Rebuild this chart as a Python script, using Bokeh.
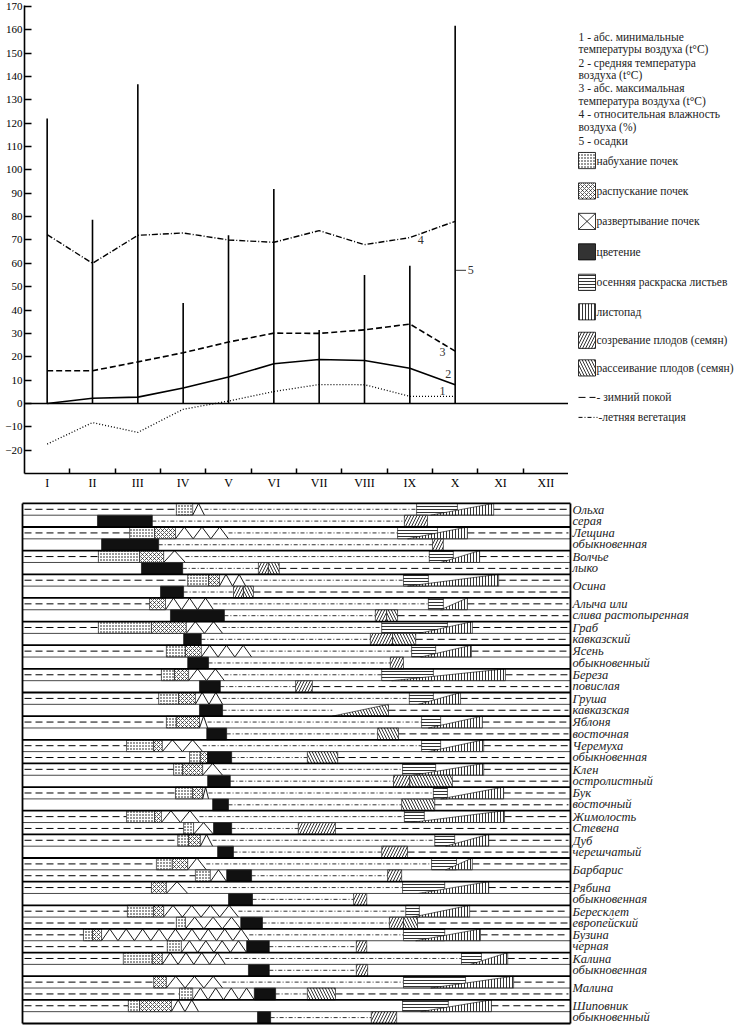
from bokeh.plotting import figure
from bokeh.layouts import column, row
from bokeh.models import FixedTicker, Range1d, Span
from bokeh.core.properties import value
from bokeh.embed import file_html
from bokeh.resources import INLINE

SERIF = "Liberation Serif"

# ---------------- climate data ----------------
months = ["I", "II", "III", "IV", "V", "VI", "VII", "VIII", "IX", "X", "XI", "XII"]
data_months = [1, 2, 3, 4, 5, 6, 7, 8, 9, 10]
t_min = [-17.4, -8.2, -12.4, -2.5, 1.0, 5.1, 8.1, 8.0, 3.0, 3.0]
t_mean = [0.0, 2.2, 2.7, 6.6, 11.3, 17.0, 18.8, 18.4, 15.1, 8.0]
t_max = [14.0, 14.0, 17.8, 21.7, 26.3, 30.1, 30.0, 31.5, 34.0, 22.4]
humidity = [72.3, 60.0, 72.0, 73.0, 70.0, 69.0, 74.0, 68.0, 71.0, 78.0]
precip = [122.0, 78.7, 136.7, 43.0, 72.0, 91.8, 31.5, 55.0, 59.0, 161.7]

series_labels = ["1", "2", "3", "4"]
series_label_x = [9.72, 9.85, 9.72, 9.24]
series_label_y = [5.5, 12.8, 22.1, 69.8]

legend_lines = [
    "1 - абс. минимальные", "температуры воздуха (t°C)",
    "2 - средняя температура", "воздуха (t°C)",
    "3 - абс. максимальная", "температура воздуха  (t°C)",
    "4 - относительная влажность", "воздуха (%)",
    "5 - осадки",
]
phase_names = ["набухание почек", "распускание почек", "развертывание почек",
               "цветение", "осенняя раскраска листьев", "листопад",
               "созревание плодов (семян)", "рассеивание плодов (семян)"]

# ---------------- phenology data (row, start, end) in months ----------------
species = ["Ольха\nсерая", "Лещина\nобыкновенная", "Волчье\nлыко", "Осина",
           "Алыча или\nслива растопыренная", "Граб\nкавказский", "Ясень\nобыкновенный",
           "Береза\nповислая", "Груша\nкавказская", "Яблоня\nвосточная",
           "Черемуха\nобыкновенная", "Клен\nостролистный", "Бук\nвосточный",
           "Жимолость\nСтевена", "Дуб\nчерешчатый", "Барбарис", "Рябина\nобыкновенная",
           "Бересклет\nевропейский", "Бузина\nчерная", "Калина\nобыкновенная",
           "Малина", "Шиповник\nобыкновенный"]

swelling = [(1, 3.85, 4.21), (3, 2.82, 3.37), (5, 2.13, 3.04), (7, 4.10, 4.56), (11, 2.13, 3.30),
            (13, 3.63, 4.05), (15, 3.52, 3.81), (17, 3.46, 3.90), (19, 3.63, 3.85), (21, 2.75, 3.35),
            (22, 4.14, 4.38), (23, 3.79, 3.99), (25, 3.83, 4.21), (27, 2.75, 3.37), (28, 4.01, 4.23),
            (29, 3.88, 4.12), (31, 3.41, 3.76), (32, 4.27, 4.60), (35, 2.77, 3.35), (36, 3.85, 4.05),
            (37, 1.80, 2.00), (38, 3.65, 3.96), (39, 2.68, 3.32), (42, 3.92, 4.21), (43, 2.79, 3.04)]
bursting = [(3, 3.37, 3.83), (5, 3.04, 3.57), (7, 4.56, 4.80), (9, 3.26, 3.61), (11, 3.30, 4.07),
            (13, 4.05, 4.40), (15, 3.81, 4.12), (17, 3.90, 4.27), (19, 3.85, 4.36), (21, 3.35, 3.54),
            (22, 4.38, 4.54), (23, 3.99, 4.43), (25, 4.21, 4.43), (27, 3.37, 3.52), (29, 4.12, 4.38),
            (31, 3.76, 4.10), (33, 3.30, 3.63), (35, 3.35, 3.57), (37, 2.00, 2.20), (39, 3.32, 3.54),
            (41, 3.35, 3.63), (43, 3.04, 3.74)]
unfolding = [(1, 4.21, 4.47), (3, 3.83, 5.00), (5, 3.57, 4.05), (7, 4.80, 5.38), (9, 3.61, 4.67),
             (11, 4.07, 4.87), (13, 4.40, 5.51), (15, 4.12, 4.91), (17, 4.27, 4.87), (19, 4.36, 4.54),
             (21, 3.54, 4.43), (23, 4.43, 4.87), (25, 4.43, 4.56), (27, 3.52, 4.36), (28, 4.23, 4.67),
             (29, 4.38, 4.65), (31, 4.10, 4.51), (32, 4.60, 4.96), (33, 3.63, 4.10), (35, 3.57, 5.22),
             (36, 4.05, 5.27), (37, 2.20, 5.46), (38, 3.96, 5.40), (39, 3.54, 4.93), (41, 3.63, 4.87),
             (42, 4.21, 5.57), (43, 3.74, 4.34)]
flowering = [(2, 2.11, 3.32), (4, 2.20, 3.46), (6, 3.08, 3.99), (8, 3.50, 4.01), (10, 3.72, 4.91),
             (12, 4.01, 4.40), (14, 4.10, 4.56), (16, 4.36, 4.82), (18, 4.36, 4.87), (20, 4.52, 4.96),
             (22, 4.54, 5.07), (24, 4.54, 5.04), (26, 4.65, 5.00), (28, 4.67, 5.07), (30, 4.76, 5.11),
             (32, 4.96, 5.51), (34, 5.00, 5.53), (36, 5.27, 5.75), (38, 5.40, 5.90), (40, 5.44, 5.90),
             (42, 5.57, 6.04), (44, 5.64, 5.93)]
coloring = [(1, 9.15, 10.05), (3, 8.73, 9.61), (5, 9.43, 9.96), (7, 8.86, 9.41), (9, 9.41, 9.74),
            (11, 8.38, 9.83), (13, 9.04, 9.57), (15, 8.38, 9.52), (17, 8.99, 9.52), (19, 9.26, 9.68),
            (21, 9.26, 9.68), (23, 8.84, 9.57), (25, 9.52, 9.83), (27, 8.88, 9.32), (29, 9.55, 9.99),
            (31, 9.48, 10.03), (33, 8.84, 9.77), (35, 8.91, 9.21), (37, 8.86, 9.77), (39, 10.14, 10.58),
            (41, 8.86, 10.23), (43, 8.84, 9.85)]
leaf_fall = [(1, 9.46, 10.85), (3, 8.95, 10.27), (5, 9.68, 10.54), (7, 8.95, 10.96), (9, 9.68, 10.27),
             (11, 9.20, 10.38), (13, 9.24, 10.36), (15, 8.60, 11.11), (17, 9.19, 10.12), (19, 9.41, 10.60),
             (21, 9.41, 10.63), (23, 9.06, 10.63), (25, 9.68, 11.07), (27, 9.02, 11.09), (29, 9.79, 10.74),
             (31, 9.79, 10.38), (33, 9.19, 10.74), (35, 9.06, 10.32), (37, 9.13, 10.56), (39, 10.34, 11.16),
             (41, 9.46, 11.29), (43, 9.24, 10.80)]
ripening = [(2, 8.88, 9.39), (4, 9.50, 9.74), (6, 5.66, 5.88), (8, 5.11, 5.33), (10, 8.24, 8.49),
            (12, 8.13, 8.62), (14, 8.57, 8.86), (16, 6.48, 6.85), (24, 8.64, 9.00), (28, 6.54, 7.36),
            (30, 8.38, 8.95), (32, 8.51, 8.82), (34, 7.76, 8.05), (36, 8.55, 8.86), (38, 7.82, 8.05),
            (40, 7.82, 8.07), (44, 8.15, 8.71)]
dispersal = [(6, 5.88, 6.12), (8, 5.33, 5.55), (10, 8.49, 8.73), (12, 8.62, 9.13), (20, 8.29, 8.75),
             (22, 6.74, 7.41), (24, 9.00, 9.94), (26, 8.82, 9.55), (36, 8.86, 9.17), (42, 6.74, 7.36)]
dispersal_rising = [(18, 7.29, 8.53)]
winter_rest = [(1, 0.5, 3.85), (1, 10.85, 12.5), (3, 0.5, 2.82), (3, 10.27, 12.5), (5, 0.5, 2.13),
               (5, 10.54, 12.5), (6, 6.12, 12.5), (7, 0.5, 4.10), (7, 10.96, 12.5), (8, 5.55, 12.5),
               (9, 0.5, 3.26), (9, 10.27, 12.5), (10, 8.73, 12.5), (11, 0.5, 2.13), (11, 10.38, 12.5),
               (12, 9.13, 12.5), (13, 0.5, 3.63), (13, 10.36, 12.5), (15, 0.5, 3.52), (15, 11.11, 12.5),
               (16, 6.85, 12.5), (17, 0.5, 3.46), (17, 10.12, 12.5), (18, 8.53, 12.5), (19, 0.5, 3.63),
               (19, 10.60, 12.5), (20, 8.75, 12.5), (21, 0.5, 2.75), (21, 10.63, 12.5), (22, 0.5, 4.14),
               (22, 7.41, 12.5), (23, 0.5, 3.79), (23, 10.63, 12.5), (24, 9.94, 12.5), (25, 0.5, 3.83),
               (25, 11.07, 12.5), (26, 9.55, 12.5), (27, 0.5, 2.75), (27, 11.09, 12.5), (28, 0.5, 4.01),
               (28, 7.36, 12.5), (29, 0.5, 3.88), (29, 10.74, 12.5), (30, 8.95, 12.5), (31, 0.5, 3.41),
               (31, 10.38, 12.5), (32, 0.5, 4.27), (33, 0.5, 3.30), (33, 10.74, 12.5), (35, 0.5, 2.77),
               (35, 10.32, 12.5), (36, 0.5, 3.85), (36, 9.17, 12.5), (37, 0.5, 1.80), (37, 10.56, 12.5),
               (38, 0.5, 3.65), (39, 0.5, 2.68), (39, 11.16, 12.5), (41, 0.5, 3.35), (41, 11.29, 12.5),
               (42, 0.5, 3.92), (42, 7.36, 12.5), (43, 0.5, 2.79), (43, 10.80, 12.5)]
summer_veg = [(1, 4.47, 9.15), (2, 3.32, 8.88), (3, 5.00, 8.73), (4, 3.46, 9.50), (5, 4.05, 9.43),
              (6, 3.99, 5.66), (7, 5.38, 8.86), (8, 4.01, 5.11), (9, 4.67, 9.41), (10, 4.91, 8.24),
              (11, 4.87, 8.38), (12, 4.40, 8.13), (13, 5.51, 9.04), (14, 4.56, 8.57), (15, 4.91, 8.38),
              (16, 4.82, 6.48), (17, 4.87, 8.99), (18, 4.87, 7.29), (19, 4.54, 9.26), (20, 4.96, 8.29),
              (21, 4.43, 9.26), (22, 5.07, 6.74), (23, 4.87, 8.84), (24, 5.04, 8.64), (25, 4.56, 9.52),
              (26, 5.00, 8.82), (27, 4.36, 8.88), (28, 5.07, 6.54), (29, 4.65, 9.55), (30, 5.11, 8.38),
              (31, 4.51, 9.48), (32, 5.51, 8.51), (33, 4.10, 8.84), (34, 5.53, 7.76), (35, 5.22, 8.91),
              (36, 5.75, 8.55), (37, 5.46, 8.86), (38, 5.90, 7.82), (39, 4.93, 10.14), (40, 5.90, 7.82),
              (41, 4.87, 8.86), (42, 6.04, 6.74), (44, 5.93, 8.15)]

# ---------------- styles ----------------
WINTER_DASH = "7 4"
SUMMER_DASH = "4 2 1 2"
HATCH = dict(
    swell=dict(hatch_pattern="dot", hatch_scale=3, hatch_weight=1.0),
    burst=dict(hatch_pattern="diagonal_cross", hatch_scale=4, hatch_weight=0.6),
    color=dict(hatch_pattern="horizontal_line", hatch_scale=3, hatch_weight=0.8),
    fall=dict(hatch_pattern="vertical_line", hatch_scale=3, hatch_weight=0.8),
    ripen=dict(hatch_pattern="right_diagonal_line", hatch_scale=6, hatch_weight=0.8),
    disp=dict(hatch_pattern="left_diagonal_line", hatch_scale=6, hatch_weight=0.8),
)
MONTH_PX = 45.33
FRAME_LEFT = 24

# ---------------- top chart ----------------
top = figure(width=FRAME_LEFT + 544, height=492, x_range=Range1d(0.5, 12.5), y_range=Range1d(-30, 170.4),
             output_backend="svg", toolbar_location=None,
             min_border_left=FRAME_LEFT, min_border_right=0, min_border_top=5, min_border_bottom=17)
top.grid.visible = False
top.outline_line_color = None
top.background_fill_color = "white"
top.border_fill_color = "white"

xa = top.xaxis[0]
xa.ticker = FixedTicker(ticks=list(range(1, 13)), minor_ticks=[m + 0.5 for m in range(1, 12)])
xa.major_label_overrides = {i + 1: months[i] for i in range(12)}
xa.major_tick_in = 0
xa.major_tick_out = 0
xa.minor_tick_in = 5
xa.minor_tick_out = 0
xa.minor_tick_line_width = 1.5
xa.axis_line_width = 1.6
xa.major_label_text_font = SERIF
xa.major_label_text_font_size = "12px"
xa.major_label_text_color = "black"
xa.major_label_standoff = 2

ya = top.yaxis[0]
ya.ticker = FixedTicker(ticks=list(range(-20, 171, 10)))
ya.major_tick_in = 7
ya.major_tick_out = 0
ya.minor_tick_in = 0
ya.minor_tick_out = 0
ya.major_tick_line_width = 1.5
ya.axis_line_width = 1.6
ya.major_label_text_font = SERIF
ya.major_label_text_font_size = "11px"
ya.major_label_text_color = "black"
ya.major_label_standoff = 2

top.add_layout(Span(location=0, dimension="width", line_color="black", line_width=1.6))
top.segment(x0=data_months, y0=[0] * len(precip), x1=data_months, y1=precip,
            line_color="black", line_width=1.6)
top.line(data_months, t_min, line_color="black", line_width=1.3, line_dash="1 2")
top.line(data_months, t_mean, line_color="black", line_width=1.6)
top.line(data_months, t_max, line_color="black", line_width=1.6, line_dash="6 3")
top.line(data_months, humidity, line_color="black", line_width=1.4, line_dash="6 2 1 2")
top.text(x=series_label_x, y=series_label_y, text=series_labels, text_font=value(SERIF),
         text_font_size="12px", text_color="#333333", text_align="center", text_baseline="middle")
p5_x = data_months[-1]
top.segment(x0=[p5_x + 0.02], y0=[57], x1=[p5_x + 0.24], y1=[57], line_color="black", line_width=0.8)
top.text(x=[p5_x + 0.28], y=[57], text=["5"], text_font=value(SERIF), text_font_size="12px",
         text_color="#333333", text_baseline="middle")

# ---------------- legend panel ----------------
LEG_W = 734 - (FRAME_LEFT + 544)
leg = figure(width=LEG_W, height=492, x_range=Range1d(0, LEG_W), y_range=Range1d(492, 0),
             x_axis_type=None, y_axis_type=None, output_backend="svg", toolbar_location=None,
             min_border=0)
leg.grid.visible = False
leg.outline_line_color = None
leg.background_fill_color = "white"
leg.border_fill_color = "white"

line_y = [33, 46, 60, 73, 87, 100, 114, 128, 142]
leg.text(x=[10] * len(legend_lines), y=line_y, text=legend_lines, text_font=value(SERIF),
         text_font_size="11.5px", text_color="#222222", text_baseline="middle")

sw_y = [163, 195, 227, 259, 291, 322, 352, 381]
S = 17
SX0 = 10
def sw(i):
    return dict(left=[SX0], right=[SX0 + S], top=[sw_y[i] - S / 2], bottom=[sw_y[i] + S / 2])
box_kw = dict(fill_color="white", line_color="black", line_width=0.8, hatch_color="black")
leg.quad(**sw(0), **box_kw, **HATCH["swell"])
leg.quad(**sw(1), **box_kw, **HATCH["burst"])
leg.quad(**sw(2), fill_color="white", line_color="black", line_width=0.8)
leg.multi_line(xs=[[SX0, SX0 + S], [SX0, SX0 + S]],
               ys=[[sw_y[2] - S / 2, sw_y[2] + S / 2], [sw_y[2] + S / 2, sw_y[2] - S / 2]],
               line_color="black", line_width=0.8)
leg.quad(**sw(3), fill_color="#333333", line_color="black", line_width=0.8)
leg.quad(**sw(4), **box_kw, **HATCH["color"])
leg.quad(**sw(5), **box_kw, **HATCH["fall"])
leg.quad(**sw(6), **box_kw, **HATCH["ripen"])
leg.quad(**sw(7), **box_kw, **HATCH["disp"])
leg.text(x=[SX0 + S + 1] * len(phase_names), y=sw_y, text=phase_names, text_font=value(SERIF),
         text_font_size="11.5px", text_color="#222222", text_baseline="middle")

lw_y = [412, 433]
leg.segment(x0=[10], y0=[lw_y[0]], x1=[27], y1=[lw_y[0]], line_color="black", line_width=1.0,
            line_dash=WINTER_DASH)
leg.segment(x0=[10], y0=[lw_y[1]], x1=[29], y1=[lw_y[1]], line_color="black", line_width=1.0,
            line_dash=SUMMER_DASH)
leg.text(x=[28, 30], y=lw_y, text=["- зимний покой", "-летняя вегетация"], text_font=value(SERIF),
         text_font_size="11.5px", text_color="#222222", text_baseline="middle")

# ---------------- phenological chart ----------------
n_rows = 2 * len(species)
x0_b = 0.5 - FRAME_LEFT / MONTH_PX
bot = figure(width=734, height=533, x_range=Range1d(x0_b, x0_b + 734 / MONTH_PX),
             y_range=Range1d(n_rows + 0.17, -0.92), x_axis_type=None, y_axis_type=None,
             output_backend="svg", toolbar_location=None, min_border=0)
bot.grid.visible = False
bot.outline_line_color = None
bot.background_fill_color = "white"
bot.border_fill_color = "white"

def seg_lines(items, dash, width):
    bot.segment(x0=[s for _, s, _ in items], x1=[e for _, _, e in items],
                y0=[r - 0.5 for r, _, _ in items], y1=[r - 0.5 for r, _, _ in items],
                line_color="black", line_width=width, line_dash=dash)

seg_lines(winter_rest, WINTER_DASH, 1.0)
seg_lines(summer_veg, SUMMER_DASH, 0.8)

def quads(items, **kw):
    bot.quad(left=[s for _, s, _ in items], right=[e for _, _, e in items],
             top=[r - 1 for r, _, _ in items], bottom=[r for r, _, _ in items], **kw)

ph_kw = dict(fill_color="white", line_color="black", line_width=0.6, hatch_color="black")
quads(coloring, **ph_kw, **HATCH["color"])
bot.patches(xs=[[s, e, e] for _, s, e in leaf_fall], ys=[[r, r, r - 1] for r, _, _ in leaf_fall],
            **ph_kw, **HATCH["fall"])
quads(swelling, **ph_kw, **HATCH["swell"])
quads(bursting, **ph_kw, **HATCH["burst"])
quads(flowering, fill_color="#111111", line_color="black", line_width=0.6)
quads(ripening, **ph_kw, **HATCH["ripen"])
quads(dispersal, **ph_kw, **HATCH["disp"])
bot.patches(xs=[[s, e, e] for _, s, e in dispersal_rising], ys=[[r, r, r - 1] for r, _, _ in dispersal_rising],
            **ph_kw, **HATCH["disp"])

zz_xs, zz_ys = [], []
for r, s, e in unfolding:
    n = max(1, int(round((e - s) / 0.38)))
    w = (e - s) / n
    xs, ys = [s], [r]
    for k in range(n):
        xs += [s + (k + 0.5) * w, s + (k + 1) * w]
        ys += [r - 1, r]
    zz_xs.append(xs)
    zz_ys.append(ys)
bot.multi_line(zz_xs, zz_ys, line_color="black", line_width=0.9)

# row borders
BX0, BX1 = 0.5 - 2 / MONTH_PX, 12.5 + 2 / MONTH_PX
bounds = list(range(n_rows + 1))
thin = [b for b in bounds if b % 2 == 1]
thick = [b for b in bounds if b % 2 == 0]
bot.segment(x0=[BX0] * len(thin), x1=[BX1] * len(thin), y0=thin, y1=thin, line_color="#333333", line_width=0.9)
bot.segment(x0=[BX0] * len(thick), x1=[BX1] * len(thick), y0=thick, y1=thick, line_color="black", line_width=1.8)
bot.segment(x0=[BX0, BX1], x1=[BX0, BX1], y0=[0, 0], y1=[n_rows, n_rows], line_color="black", line_width=1.8)

bot.text(x=[12.59] * len(species), y=[2 * j + 1.0 for j in range(len(species))], text=species,
         text_font=value(SERIF), text_font_style="italic", text_font_size="12.5px",
         text_color="#222222", text_baseline="middle", text_line_height=0.8)

layout = column(row(top, leg), bot)
open("out.html", "w").write(file_html(layout, INLINE))
